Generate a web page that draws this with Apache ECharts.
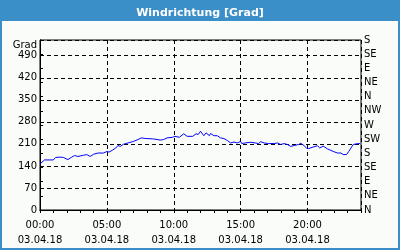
<!DOCTYPE html>
<html>
<head>
<meta charset="utf-8">
<script src="https://cdn.jsdelivr.net/npm/echarts@6/dist/echarts.min.js"></script>
<style>
html,body{margin:0;padding:0;background:#3a8fc8;}
#frame{position:absolute;left:0;top:0;width:400px;height:250px;background:#3a8fc8;}
#inner{position:absolute;left:2px;top:21px;width:396px;height:227px;background:#f9fcf9;}
#chart{position:absolute;left:0;top:0;width:400px;height:250px;}
</style>
</head>
<body>
<div id="frame"><div id="inner"></div></div>
<div id="chart"></div>
<script>
const titleText = 'Windrichtung [Grad]';
const yAxisName = 'Grad';
const dateLabel = '03.04.18';
const leftTicks = [0, 70, 140, 210, 280, 350, 420, 490];
const dirLabels = ['N','NE','E','SE','S','SW','W','NW','N','NE','E','SE','S'];
const times = ['00:00','00:20','01:00','01:10','01:30','01:45','02:05','02:20','02:35','02:50',
 '03:15','03:30','03:45','04:00','04:20','04:45','05:00','05:05','05:10','05:25',
 '05:40','05:50','06:00','06:15','06:35','07:00','07:20','07:35','07:55','08:25',
 '08:45','09:00','09:15','09:30','09:55','10:05','10:25','10:45','11:00','11:25',
 '11:40','11:50','12:00','12:15','12:25','12:40','12:45','13:00','13:15','13:30',
 '13:45','14:00','14:15','14:30','14:45','15:00','15:05','15:20','15:45','15:50',
 '16:05','16:20','16:30','16:45','17:05','17:30','17:45','18:00','18:15','18:30',
 '18:45','19:00','19:20','19:30','19:45','19:55','20:05','20:25','20:45','20:55',
 '21:10','21:30','21:55','22:15','22:30','22:40','22:45','22:55','23:05','23:15',
 '23:25','23:45','23:55'];
const values = [146,159,159,167,168,167,160,167,173,170,
 174,176,170,177,181,181,186,192,184,190,
 197,205,202,209,213,218,224,229,227,226,
 224,222,224,229,231,234,231,242,234,234,
 242,240,250,236,245,236,243,236,236,229,
 227,221,213,216,213,218,211,213,215,221,
 213,211,217,213,211,211,213,208,211,208,
 202,205,208,212,204,197,195,200,204,197,
 203,194,186,181,181,176,181,176,186,197,
 208,211,211];

function toHours(t){const p=t.split(':');return (+p[0])+(+p[1])/60;}
const seriesData = times.map((t,i)=>[toHours(t), values[i]]);

const font = 'DejaVu Sans';
const chart = echarts.init(document.getElementById('chart'), null, {renderer:'canvas'});
const dash = {color:'#000', width:1, type:[4,3]};
chart.setOption({
  backgroundColor:'transparent',
  animation:false,
  title:{text:titleText, left:'center', top:3,
    textStyle:{color:'#fff', fontSize:11, fontWeight:'bold', fontFamily:font}},
  graphic:[{type:'text', x:37, y:45, style:{text:yAxisName, fill:'#000', font:'10px "DejaVu Sans"', align:'right', verticalAlign:'middle'}}],
  grid:{left:40, right:39, top:40, bottom:40, show:true, borderColor:'#000', borderWidth:1, backgroundColor:'transparent'},
  xAxis:[{
    type:'value', min:0, max:24, interval:5, position:'bottom',
    axisLine:{show:true, lineStyle:{color:'#000'}},
    axisTick:{show:false},
    splitLine:{show:true, lineStyle:dash},
    axisLabel:{showMaxLabel:false, color:'#000', fontFamily:font, fontSize:10, lineHeight:15, margin:8,
      formatter:function(v){ if(v%5!==0) return ''; const h=String(v).padStart(2,'0'); return h+':00\n'+dateLabel; }}
  },{
    type:'value', min:0, max:24, interval:1, position:'bottom',
    axisLine:{show:true, lineStyle:{color:'#000'}},
    axisTick:{show:true, length:3, lineStyle:{color:'#000'}},
    splitLine:{show:false},
    axisLabel:{show:false}
  }],
  yAxis:[{
    type:'value', min:0, max:540, interval:70, position:'left',
    axisLine:{show:true, lineStyle:{color:'#000'}},
    axisTick:{show:false},
    splitLine:{show:true, lineStyle:dash},
    axisLabel:{showMaxLabel:false, color:'#000', fontFamily:font, fontSize:10, margin:3,
      formatter:function(v){ return leftTicks.indexOf(v)>=0 ? String(v) : ''; }}
  },{
    type:'value', min:0, max:540, interval:45, position:'right',
    axisLine:{show:true, lineStyle:{color:'#000'}},
    axisTick:{show:true, length:3, lineStyle:{color:'#000'}},
    splitLine:{show:false},
    axisLabel:{color:'#000', fontFamily:font, fontSize:10, margin:3,
      formatter:function(v){ return dirLabels[Math.round(v/45)] || ''; }}
  }],
  series:[{
    type:'line', xAxisIndex:0, yAxisIndex:0, data:seriesData,
    showSymbol:false, symbol:'none', lineStyle:{color:'#0000ff', width:1}
  }]
});
</script>
</body>
</html>
